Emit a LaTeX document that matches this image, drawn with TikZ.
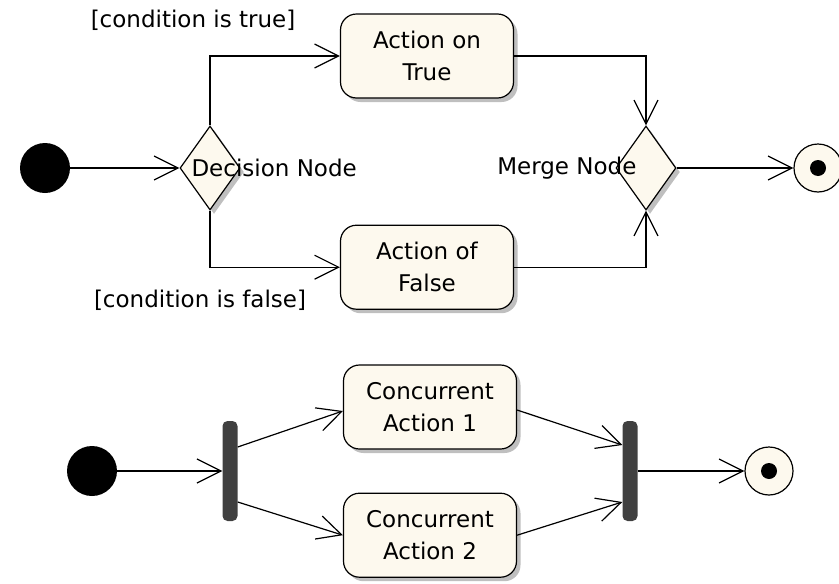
\documentclass[tikz,border=0pt]{standalone}
\usepackage{fontspec}
\setmainfont{DejaVu Sans}
\usetikzlibrary{positioning, arrows.meta, shapes.geometric, shadows}
\definecolor{cream}{RGB}{253,249,238}
\definecolor{bargray}{RGB}{64,64,64}

\begin{document}
\begin{tikzpicture}[x=1pt, y=-1pt, font=\fontsize{23}{32}\selectfont,
    shade/.style={drop shadow={shadow xshift=4pt, shadow yshift=-4pt, fill=black!25, opacity=1}},
    action/.style={draw, line width=1.2pt, rounded corners=16pt, fill=cream, align=center,
        minimum width=173pt, minimum height=84pt, inner sep=0pt, shade},
    choice/.style={diamond, draw, line width=1.2pt, fill=cream, minimum width=60pt,
        minimum height=84pt, inner sep=0pt, shade},
    start/.style={circle, fill=black, minimum size=50pt, inner sep=0pt},
    stop/.style={circle, draw, line width=1.2pt, fill=cream, minimum size=48pt, inner sep=0pt,
        path picture={\fill[black] (path picture bounding box.center) circle (8pt);}},
    bar/.style={fill=bargray, rounded corners=5pt, minimum width=15pt, minimum height=100pt, inner sep=0pt},
    flow/.style={-{Straight Barb[length=24pt, width=24pt]}, line width=1.2pt}]
    \useasboundingbox (0,0) rectangle (839,584);

    % decision and merge
    \node[start] (init1) at (45,168) {};
    \node[choice] (dec) at (210,168) {};
    \node[action] (atrue) at (427,56) {Action on\\True};
    \node[action, below=126pt of atrue] (afalse) {Action of\\False};
    \node[choice] (merge) at (646,168) {};
    \node[stop] (fin1) at (818,168) {};

    \node[anchor=west] (decl) at (188,168) {Decision Node};
    \node[anchor=east] (mergel) at (640,168) {Merge Node};
    \node (truel) at (193,20) {[condition is true]};
    \node (falsel) at (200,300) {[condition is false]};

    \draw[flow] (init1) -- (dec);
    \draw[flow] (dec.north) |- (atrue);
    \draw[flow] (dec.south) |- (afalse);
    \draw[flow] (atrue) -| (merge);
    \draw[flow] (afalse) -| (merge);
    \draw[flow] (merge) -- (fin1);

    % fork and join
    \node[start] (init2) at (92,471) {};
    \node[bar] (fork) at (230,471) {};
    \node[action] (conc1) at (430,407) {Concurrent\\Action 1};
    \node[action, below=43pt of conc1] (conc2) {Concurrent\\Action 2};
    \node[bar] (join) at (630,471) {};
    \node[stop] (fin2) at (769,471) {};

    \draw[flow] (init2) -- (fork);
    \draw[flow] ([yshift=24pt]fork.east) -- ([yshift=-4pt]conc1.west);
    \draw[flow] ([yshift=-31pt]fork.east) -- (conc2.west);
    \draw[flow] ([yshift=-3pt]conc1.east) -- ([yshift=26pt]join.west);
    \draw[flow] (conc2.east) -- ([yshift=-31pt]join.west);
    \draw[flow] (join) -- (fin2);
\end{tikzpicture}
\end{document}
